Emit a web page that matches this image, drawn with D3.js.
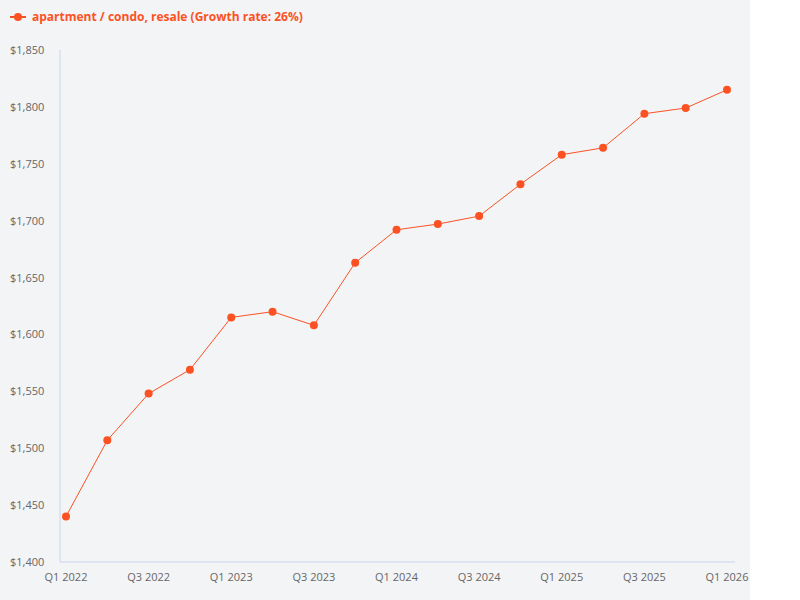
<!DOCTYPE html>
<html>
<head>
<script src="https://d3js.org/d3.v7.min.js"></script>
<style>
  body { margin: 0; background: #fff; font-family: "Open Sans", sans-serif; }
</style>
</head>
<body>
<svg width="800" height="600"></svg>
<script>
const quarters = ["Q1 2022","Q2 2022","Q3 2022","Q4 2022","Q1 2023","Q2 2023","Q3 2023","Q4 2023",
  "Q1 2024","Q2 2024","Q3 2024","Q4 2024","Q1 2025","Q2 2025","Q3 2025","Q4 2025","Q1 2026"];
const prices = [1440, 1507, 1548, 1569, 1615, 1620, 1608, 1663, 1692, 1697, 1704, 1732, 1758, 1764, 1794, 1799, 1815];
const yTicks = [1400, 1450, 1500, 1550, 1600, 1650, 1700, 1750, 1800, 1850];
const legendLabel = "apartment / condo, resale (Growth rate: 26%)";
const color = "#fc5223";

const svg = d3.select("svg");
svg.append("rect").attr("width", 750).attr("height", 600).attr("fill", "#f3f4f6");

const x = d3.scalePoint().domain(quarters).range([66, 727]);
const y = d3.scaleLinear().domain([1400, 1850]).range([562, 50]);

// axes
svg.append("line").attr("x1", 60).attr("x2", 735).attr("y1", 562).attr("y2", 562)
  .attr("stroke", "#c9d6ea");
svg.append("line").attr("x1", 60).attr("x2", 60).attr("y1", 50).attr("y2", 562)
  .attr("stroke", "#c9d6ea");

svg.selectAll(".ytick").data(yTicks).join("text")
  .attr("x", 10).attr("y", d => y(d) + 4)
  .attr("font-size", 11).attr("fill", "#666")
  .text(d => "$" + d3.format(",")(d));

svg.selectAll(".xtick").data(quarters.filter((d, i) => i % 2 === 0)).join("text")
  .attr("x", d => x(d)).attr("y", 581)
  .attr("text-anchor", "middle").attr("font-size", 11).attr("fill", "#666")
  .text(d => d);

const line = d3.line().x((d, i) => x(quarters[i])).y(d => y(d));
svg.append("path").datum(prices).attr("d", line)
  .attr("fill", "none").attr("stroke", color).attr("stroke-width", 1);
svg.selectAll(".pt").data(prices).join("circle")
  .attr("cx", (d, i) => x(quarters[i])).attr("cy", d => y(d)).attr("r", 4).attr("fill", color);

// legend
svg.append("line").attr("x1", 10).attr("x2", 26).attr("y1", 17).attr("y2", 17)
  .attr("stroke", color).attr("stroke-width", 2);
svg.append("circle").attr("cx", 18).attr("cy", 17).attr("r", 4).attr("fill", color);
svg.append("text").attr("x", 32).attr("y", 21).attr("font-size", 12).attr("font-weight", "bold")
  .attr("fill", color).text(legendLabel);
</script>
</body>
</html>
